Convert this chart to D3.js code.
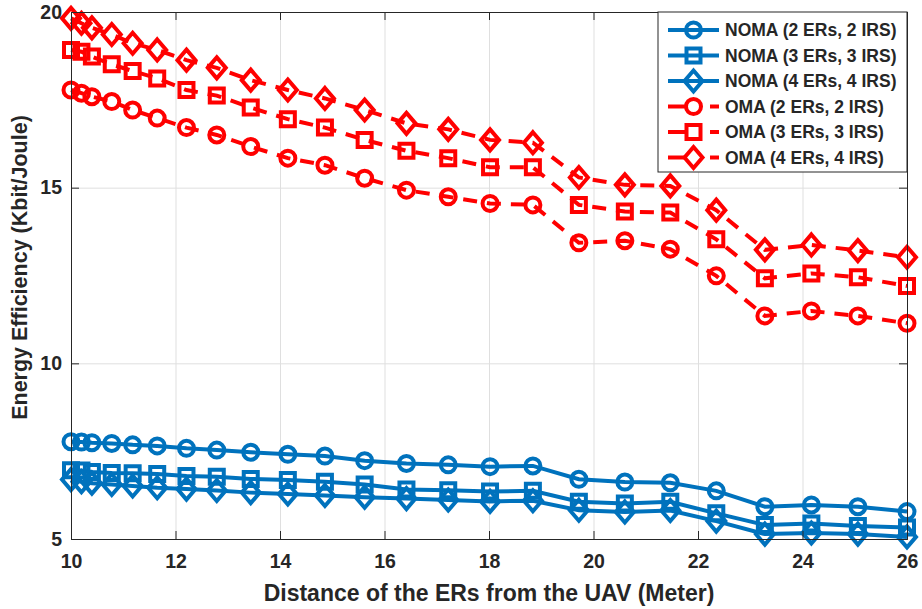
<!DOCTYPE html>
<html>
<head>
<meta charset="utf-8">
<script src="https://cdn.jsdelivr.net/npm/d3@7"></script>
<style>
  body { margin: 0; background: #fff; }
  text { font-family: "Liberation Sans", Arial, sans-serif; font-weight: bold; fill: #262626; }
</style>
</head>
<body>
<div id="chart"></div>
<script>
// distance of the ERs from the UAV (meter)
let distance = [10, 10.2, 10.4, 10.78, 11.18, 11.65, 12.21, 12.79, 13.44, 14.15, 14.86, 15.62,
  16.42, 17.22, 18.02, 18.84, 19.72, 20.6, 21.47, 22.35, 23.28, 24.17, 25.06, 26];

// energy efficiency (Kbit/Joule)
let noma2 = [7.77, 7.76, 7.74, 7.72, 7.68, 7.65, 7.58, 7.53, 7.47, 7.41, 7.36, 7.23,
  7.15, 7.11, 7.06, 7.08, 6.70, 6.62, 6.60, 6.37, 5.92, 5.97, 5.92, 5.78];
let noma3 = [6.96, 6.95, 6.91, 6.88, 6.87, 6.85, 6.79, 6.77, 6.71, 6.68, 6.63, 6.55,
  6.41, 6.39, 6.35, 6.37, 6.06, 6.01, 6.06, 5.73, 5.40, 5.44, 5.37, 5.33];
let noma4 = [6.69, 6.63, 6.59, 6.55, 6.51, 6.46, 6.42, 6.38, 6.32, 6.28, 6.24, 6.19,
  6.15, 6.11, 6.07, 6.09, 5.82, 5.77, 5.81, 5.51, 5.14, 5.17, 5.14, 5.06];
let oma2 = [17.78, 17.69, 17.59, 17.45, 17.21, 16.98, 16.71, 16.50, 16.17, 15.84, 15.64, 15.27,
  14.93, 14.74, 14.55, 14.51, 13.43, 13.49, 13.25, 12.49, 11.35, 11.49, 11.35, 11.14];
let oma3 = [18.92, 18.87, 18.73, 18.51, 18.32, 18.11, 17.78, 17.62, 17.28, 16.95, 16.71, 16.36,
  16.05, 15.84, 15.58, 15.58, 14.51, 14.32, 14.29, 13.53, 12.42, 12.56, 12.45, 12.20];
let oma4 = [19.82, 19.68, 19.55, 19.36, 19.11, 18.92, 18.63, 18.41, 18.06, 17.78, 17.54, 17.21,
  16.83, 16.66, 16.36, 16.28, 15.29, 15.08, 15.05, 14.36, 13.23, 13.37, 13.21, 13.02];

let seriesNames = ["NOMA (2 ERs, 2 IRS)", "NOMA (3 ERs, 3 IRS)", "NOMA (4 ERs, 4 IRS)",
  "OMA (2 ERs, 2 IRS)", "OMA (3 ERs, 3 IRS)", "OMA (4 ERs, 4 IRS)"];

let xTicks = [10, 12, 14, 16, 18, 20, 22, 24, 26];
let yTicks = [5, 10, 15, 20];

// chart measurements
let svgWidth = 922;
let svgHeight = 609;
let margin = { top: 12, right: 15, bottom: 70, left: 71 };
let width = svgWidth - margin.left - margin.right;
let height = svgHeight - margin.top - margin.bottom;

let blue = "#0072BD";
let red = "#FF0000";
let lineWidth = 4;

let series = [
  { name: seriesNames[0], values: noma2, color: blue, marker: "circle", dashed: false },
  { name: seriesNames[1], values: noma3, color: blue, marker: "square", dashed: false },
  { name: seriesNames[2], values: noma4, color: blue, marker: "diamond", dashed: false },
  { name: seriesNames[3], values: oma2, color: red, marker: "circle", dashed: true },
  { name: seriesNames[4], values: oma3, color: red, marker: "square", dashed: true },
  { name: seriesNames[5], values: oma4, color: red, marker: "diamond", dashed: true }
];

let svg = d3.select("#chart")
  .append("svg")
  .attr("width", svgWidth)
  .attr("height", svgHeight);

let chartGroup = svg.append("g")
  .attr("transform", `translate(${margin.left}, ${margin.top})`);

let xScale = d3.scaleLinear().domain([10, 26]).range([0, width]);
let yScale = d3.scaleLinear().domain([5, 20]).range([height, 0]);

// grid lines
chartGroup.append("g")
  .attr("class", "grid")
  .attr("transform", `translate(0, ${height})`)
  .call(d3.axisBottom(xScale).tickValues(xTicks).tickSize(-height).tickFormat(""))
  .call(g => g.select(".domain").remove());
chartGroup.append("g")
  .attr("class", "grid")
  .call(d3.axisLeft(yScale).tickValues(yTicks).tickSize(-width).tickFormat(""))
  .call(g => g.select(".domain").remove());
chartGroup.selectAll(".grid line")
  .attr("stroke", "#dfdfdf")
  .attr("stroke-width", 1);

// marker path around (0,0)
function markerPath(type) {
  if (type === "circle") {
    let p = d3.path();
    p.arc(0, 0, 7.5, 0, 2 * Math.PI);
    p.closePath();
    return p.toString();
  }
  if (type === "square") {
    return "M-7,-7L7,-7L7,7L-7,7Z";
  }
  return "M0,-10.5L9,0L0,10.5L-9,0Z";
}

let line = d3.line()
  .x((d, i) => xScale(distance[i]))
  .y(d => yScale(d));

series.forEach(function(s) {
  let g = chartGroup.append("g");

  g.append("path")
    .datum(s.values)
    .attr("d", line)
    .attr("fill", "none")
    .attr("stroke", s.color)
    .attr("stroke-width", lineWidth)
    .attr("stroke-dasharray", s.dashed ? "14,10" : null);

  g.selectAll("path.marker")
    .data(s.values)
    .enter()
    .append("path")
    .attr("class", "marker")
    .attr("transform", (d, i) => `translate(${xScale(distance[i])}, ${yScale(d)})`)
    .attr("d", markerPath(s.marker))
    .attr("fill", "none")
    .attr("stroke", s.color)
    .attr("stroke-width", lineWidth);
});

// axes with inward ticks on all four sides
let bottomAxis = chartGroup.append("g")
  .attr("transform", `translate(0, ${height})`)
  .call(d3.axisBottom(xScale).tickValues(xTicks).tickSize(-8).tickPadding(15).tickFormat(d3.format("d")));
let topAxis = chartGroup.append("g")
  .call(d3.axisTop(xScale).tickValues(xTicks).tickSize(-8).tickFormat(""));
let leftAxis = chartGroup.append("g")
  .call(d3.axisLeft(yScale).tickValues(yTicks).tickSize(-8).tickPadding(9).tickFormat(d3.format("d")));
let rightAxis = chartGroup.append("g")
  .attr("transform", `translate(${width}, 0)`)
  .call(d3.axisRight(yScale).tickValues(yTicks).tickSize(-8).tickFormat(""));

[bottomAxis, topAxis, leftAxis, rightAxis].forEach(function(a) {
  a.selectAll("path.domain").attr("stroke", "#262626").attr("stroke-width", 1);
  a.selectAll("line").attr("stroke", "#262626").attr("stroke-width", 1);
  a.selectAll("text").attr("font-size", "19.5px").attr("fill", "#262626");
});

// axis labels
chartGroup.append("text")
  .attr("x", width / 2)
  .attr("y", height + 62)
  .attr("text-anchor", "middle")
  .attr("font-size", "23px")
  .text("Distance of the ERs from the UAV (Meter)");

chartGroup.append("text")
  .attr("transform", "rotate(-90)")
  .attr("x", -height / 2 + 8)
  .attr("y", -44)
  .attr("text-anchor", "middle")
  .attr("font-size", "21.5px")
  .text("Energy Efficiency (Kbit/Joule)");

// legend
let legend = svg.append("g")
  .attr("transform", "translate(658, 12)");

legend.append("rect")
  .attr("width", 249)
  .attr("height", 160)
  .attr("fill", "#fff")
  .attr("stroke", "#262626")
  .attr("stroke-width", 1);

series.forEach(function(s, i) {
  let row = legend.append("g")
    .attr("transform", `translate(0, ${18 + i * 25.5})`);

  if (s.dashed) {
    row.append("line").attr("x1", 10).attr("x2", 28).attr("y1", 0).attr("y2", 0)
      .attr("stroke", s.color).attr("stroke-width", lineWidth);
    row.append("line").attr("x1", 52).attr("x2", 61).attr("y1", 0).attr("y2", 0)
      .attr("stroke", s.color).attr("stroke-width", lineWidth);
  } else {
    row.append("line").attr("x1", 10).attr("x2", 61).attr("y1", 0).attr("y2", 0)
      .attr("stroke", s.color).attr("stroke-width", lineWidth);
  }

  row.append("path")
    .attr("transform", "translate(35.5, 0)")
    .attr("d", markerPath(s.marker))
    .attr("fill", s.dashed ? "#fff" : "none")
    .attr("stroke", s.color)
    .attr("stroke-width", lineWidth);

  row.append("text")
    .attr("x", 67)
    .attr("y", 0)
    .attr("dy", "0.35em")
    .attr("font-size", "17.5px")
    .attr("fill", "#000")
    .text(s.name);
});
</script>
</body>
</html>
